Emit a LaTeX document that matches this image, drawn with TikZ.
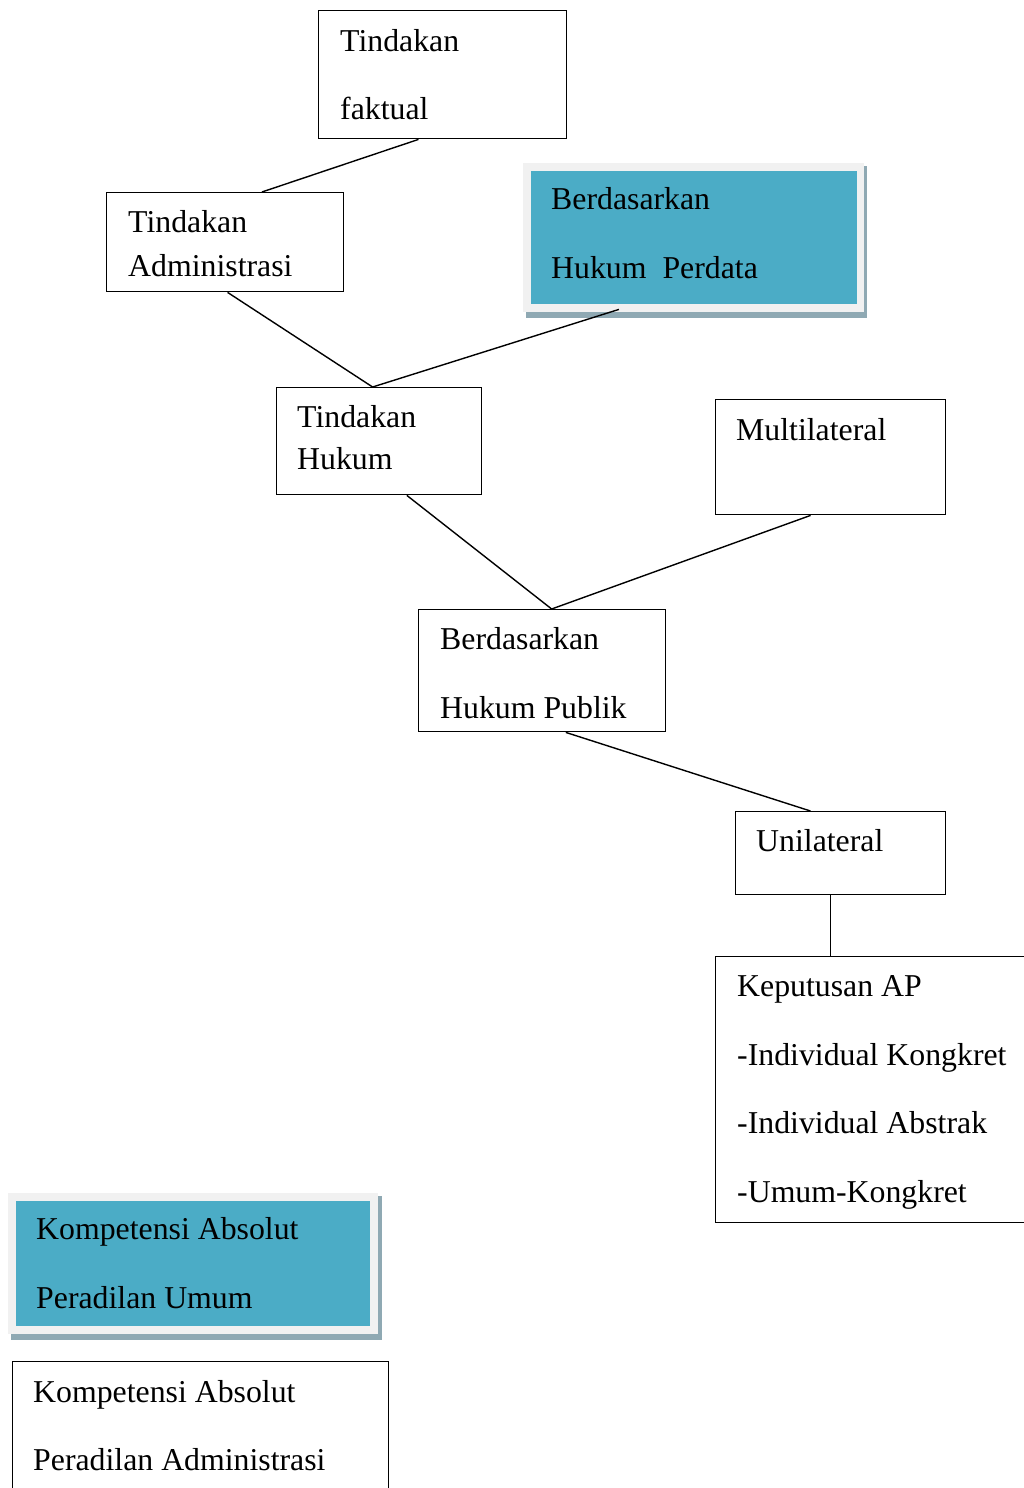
\documentclass[tikz,border=0pt]{standalone}
\usepackage{fontspec}
\setmainfont{Liberation Serif}
\usetikzlibrary{calc}
\definecolor{bluefill}{HTML}{4BACC6}
\definecolor{framefill}{HTML}{F1F1F1}
\definecolor{shadowfill}{HTML}{8FA9B3}
\begin{document}
\begin{tikzpicture}[x=1pt,y=-1pt,
  box/.style={draw, line width=1.4pt, inner sep=0pt, anchor=north west, fill=white},
  frame/.style={fill=framefill, inner sep=0pt, anchor=north west},
  txt/.style={anchor=base west, inner sep=0pt, font=\fontsize{31.8}{36}\selectfont},
  conn/.style={line width=1.4pt}]
\useasboundingbox (0,0) rectangle (1024,1488);
\fill[white] (0,0) rectangle (1024,1488);

% boxes
\node[box, minimum width=248pt, minimum height=128pt] (faktual) at (318,10) {};
\node[box, minimum width=237pt, minimum height=99pt] (admin) at (106,192) {};
\fill[shadowfill] (526,166) rectangle (867,318);
\node[frame, minimum width=341pt, minimum height=149pt] (perdata) at (523,163) {};
\fill[bluefill] (531,171) rectangle (857,304);
\node[box, minimum width=205pt, minimum height=107pt] (hukum) at (276,387) {};
\node[box, minimum width=230pt, minimum height=115pt] (multi) at (715,399) {};
\node[box, minimum width=247pt, minimum height=122pt] (publik) at (418,609) {};
\node[box, minimum width=210pt, minimum height=83pt] (uni) at (735,811) {};
\node[box, minimum width=320pt, minimum height=266pt] (kep) at (715,956) {};
\fill[shadowfill] (11,1196) rectangle (382,1340);
\node[frame, minimum width=370pt, minimum height=141pt] (umum) at (8,1193) {};
\fill[bluefill] (16,1201) rectangle (370,1326);
\node[box, minimum width=376pt, minimum height=160pt] (padm) at (12,1361) {};

% texts
\node[txt] (t1a) at (340,52) {Tindakan};
\node[txt] (t1b) at (340,119) {faktual};
\node[txt] (t2a) at (128,232) {Tindakan};
\node[txt] (t2b) at (128,276) {Administrasi};
\node[txt] (t3a) at (551,209) {Berdasarkan};
\node[txt] (t3b) at (551,278) {Hukum\ \ Perdata};
\node[txt] (t4a) at (297,427) {Tindakan};
\node[txt] (t4b) at (297,469) {Hukum};
\node[txt] (t5) at (736,440) {Multilateral};
\node[txt] (t6a) at (440,649) {Berdasarkan};
\node[txt] (t6b) at (440,718) {Hukum Publik};
\node[txt] (t7) at (756,851) {Unilateral};
\node[txt] (t8a) at (737,996) {Keputusan AP};
\node[txt] (t8b) at (737,1065) {-Individual Kongkret};
\node[txt] (t8c) at (737,1133) {-Individual Abstrak};
\node[txt] (t8d) at (737,1202) {-Umum-Kongkret};
\node[txt] (t9a) at (36,1239) {Kompetensi Absolut};
\node[txt] (t9b) at (36,1308) {Peradilan Umum};
\node[txt] (t10a) at (33,1402) {Kompetensi Absolut};
\node[txt] (t10b) at (33,1470) {Peradilan Administrasi};

% connectors
\draw[conn] ($(faktual.south west)!0.403!(faktual.south east)$) -- ($(admin.north west)!0.654!(admin.north east)$);
\draw[conn] ($(admin.south west)!0.51!(admin.south east)$) -- ($(hukum.north west)!0.468!(hukum.north east)$);
\draw[conn] ($(perdata.south west)!0.281!(perdata.south east)+(0,-3)$) -- ($(hukum.north west)!0.468!(hukum.north east)$);
\draw[conn] ($(hukum.south west)!0.634!(hukum.south east)$) -- ($(publik.north west)!0.538!(publik.north east)$);
\draw[conn] ($(multi.south west)!0.413!(multi.south east)$) -- ($(publik.north west)!0.538!(publik.north east)$);
\draw[conn] ($(publik.south west)!0.595!(publik.south east)$) -- ($(uni.north west)!0.357!(uni.north east)$);
\coordinate (ub) at ($(uni.south west)!0.452!(uni.south east)$);
\draw[conn] (ub) -- (ub |- kep.north);
\end{tikzpicture}
\end{document}
